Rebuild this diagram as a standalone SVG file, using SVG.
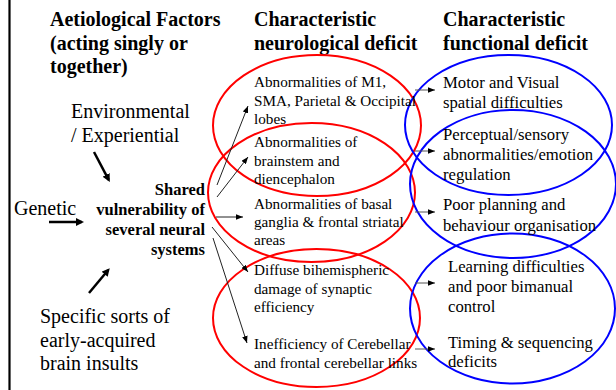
<svg xmlns="http://www.w3.org/2000/svg" width="616" height="390" viewBox="0 0 616 390">
<style>
.h{font-size:20px;font-weight:bold}
.big{font-size:20px}
.mid{font-size:15.2px}
.rt{font-size:16.7px}
.sh{font-size:16.5px;font-weight:bold}
.red{fill:none;stroke:#f00;stroke-width:2}
.blue{fill:none;stroke:#00f;stroke-width:2}
.thick{stroke:#000;stroke-width:2.5;fill:none}
.thin{stroke:#222;stroke-width:1;fill:none}
.grey{stroke:#555;stroke-width:1;fill:none}
</style>
<defs>
<marker id="hk" viewBox="0 0 10 10" refX="7" refY="5" markerWidth="8" markerHeight="8" markerUnits="userSpaceOnUse" orient="auto"><path d="M0,0 L10,5 L0,10 z" fill="#000"/></marker>
<marker id="hs" viewBox="0 0 10 8" refX="10" refY="4" markerWidth="7" markerHeight="5.6" markerUnits="userSpaceOnUse" orient="auto"><path d="M0,0 L10,4 L0,8 z" fill="#000"/></marker>
</defs>
<rect width="616" height="390" fill="#fff"/>
<line x1="9.5" y1="0" x2="9.5" y2="390" stroke="#000" stroke-width="2.2"/>

<g id="titles" class="h" font-family="Liberation Serif">
<text x="50" y="26">Aetiological Factors</text>
<text x="50" y="49.5">(acting singly or</text>
<text x="50" y="73">together)</text>
<text x="254" y="26">Characteristic</text>
<text x="254" y="49.5">neurological deficit</text>
<text x="443" y="26">Characteristic</text>
<text x="443" y="49.5">functional deficit</text>
</g>

<g id="environmental" class="big" font-family="Liberation Serif">
<text x="71" y="118">Environmental</text>
<text x="71" y="141.5">/ Experiential</text>
</g>
<g id="genetic" class="big" font-family="Liberation Serif"><text x="14" y="215">Genetic</text></g>
<g id="insults" class="big" font-family="Liberation Serif">
<text x="40" y="323">Specific sorts of</text>
<text x="40" y="346.5">early-acquired</text>
<text x="40" y="370">brain insults</text>
</g>
<g id="shared" class="sh" text-anchor="end" font-family="Liberation Serif">
<text x="205" y="195">Shared</text>
<text x="205" y="215">vulnerability of</text>
<text x="205" y="235">several neural</text>
<text x="205" y="255">systems</text>
</g>

<g id="neuro-ellipses">
<ellipse class="red" cx="317" cy="125.5" rx="104" ry="70.5"/>
<ellipse class="red" cx="311.5" cy="192.5" rx="103.5" ry="69.5"/>
<ellipse class="red" cx="316.5" cy="318" rx="103.5" ry="69"/>
</g>
<g id="func-ellipses">
<ellipse class="blue" cx="508.5" cy="125" rx="103.5" ry="70"/>
<ellipse class="blue" cx="513" cy="184" rx="103" ry="74"/>
<ellipse class="blue" cx="512.5" cy="308.5" rx="102.5" ry="75"/>
</g>

<g id="n1" class="mid" font-family="Liberation Serif">
<text x="254" y="87">Abnormalities of M1,</text>
<text x="254" y="105.5">SMA, Parietal &amp; Occipital</text>
<text x="254" y="123.5">lobes</text>
</g>
<g id="n2" class="mid" font-family="Liberation Serif">
<text x="254" y="147">Abnormalities of</text>
<text x="254" y="165.5">brainstem and</text>
<text x="254" y="183.5">diencephalon</text>
</g>
<g id="n3" class="mid" font-family="Liberation Serif">
<text x="254" y="209">Abnormalities of basal</text>
<text x="254" y="227">ganglia &amp; frontal striatal</text>
<text x="254" y="245">areas</text>
</g>
<g id="n4" class="mid" font-family="Liberation Serif">
<text x="254" y="275">Diffuse bihemispheric</text>
<text x="254" y="293.5">damage of synaptic</text>
<text x="254" y="312">efficiency</text>
</g>
<g id="n5" class="mid" font-family="Liberation Serif">
<text x="254" y="349">Inefficiency of Cerebellar</text>
<text x="254" y="367.5">and frontal cerebellar links</text>
</g>

<g id="f1" class="rt" font-family="Liberation Serif">
<text x="443" y="88">Motor and Visual</text>
<text x="443" y="108">spatial difficulties</text>
</g>
<g id="f2" class="rt" font-family="Liberation Serif">
<text x="443" y="140">Perceptual/sensory</text>
<text x="443" y="160">abnormalities/emotion</text>
<text x="443" y="180">regulation</text>
</g>
<g id="f3" class="rt" font-family="Liberation Serif">
<text x="443" y="210">Poor planning and</text>
<text x="443" y="231">behaviour organisation</text>
</g>
<g id="f4" class="rt" font-family="Liberation Serif">
<text x="448" y="272">Learning difficulties</text>
<text x="448" y="292">and poor bimanual</text>
<text x="448" y="312">control</text>
</g>
<g id="f5" class="rt" font-family="Liberation Serif">
<text x="448" y="348">Timing &amp; sequencing</text>
<text x="448" y="367">deficits</text>
</g>

<g id="connectors">
<line class="thick" x1="94" y1="152" x2="108.7" y2="179.8" marker-end="url(#hk)"/>
<line class="thick" x1="49" y1="222" x2="81.6" y2="222" marker-end="url(#hk)"/>
<line class="thick" x1="89" y1="293" x2="108.2" y2="270" marker-end="url(#hk)"/>
<line class="thin" x1="217" y1="185" x2="248" y2="106" marker-end="url(#hs)"/>
<line class="thin" x1="217" y1="197" x2="248" y2="157" marker-end="url(#hs)"/>
<line class="thin" x1="216" y1="217" x2="243" y2="217" marker-end="url(#hs)"/>
<line class="thin" x1="212" y1="227" x2="248" y2="272" marker-end="url(#hs)"/>
<line class="thin" x1="213" y1="238" x2="247" y2="343" marker-end="url(#hs)"/>
<line class="grey" x1="415" y1="90" x2="435" y2="90" marker-end="url(#hs)"/>
<line class="grey" x1="415" y1="151" x2="435" y2="151" marker-end="url(#hs)"/>
<line class="grey" x1="415" y1="212" x2="435" y2="212" marker-end="url(#hs)"/>
<line class="grey" x1="415" y1="283" x2="435" y2="283" marker-end="url(#hs)"/>
<line class="grey" x1="415" y1="349" x2="435" y2="349" marker-end="url(#hs)"/>
</g>
</svg>
